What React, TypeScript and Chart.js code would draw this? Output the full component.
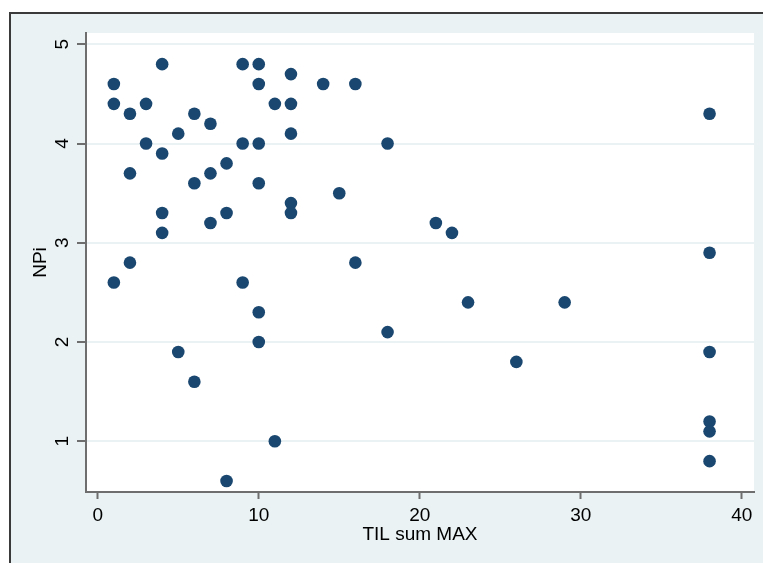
import React, { useEffect, useRef } from 'react';
import { Chart, registerables } from 'chart.js';

Chart.register(...registerables);

// TIL sum MAX (x) and NPi (y) for each observation
const tilSumMax = [
  1, 1, 1,
  2, 2, 2,
  3, 3,
  4, 4, 4, 4,
  5, 5,
  6, 6, 6,
  7, 7, 7,
  8, 8, 8,
  9, 9, 9,
  10, 10, 10, 10, 10, 10,
  11, 11,
  12, 12, 12, 12, 12,
  14,
  15,
  16, 16,
  18, 18,
  21,
  22,
  23,
  26,
  29,
  38, 38, 38, 38, 38, 38,
];
const npi = [
  4.6, 4.4, 2.6,
  4.3, 3.7, 2.8,
  4.4, 4.0,
  4.8, 3.9, 3.3, 3.1,
  4.1, 1.9,
  4.3, 3.6, 1.6,
  4.2, 3.7, 3.2,
  3.8, 3.3, 0.6,
  4.8, 4.0, 2.6,
  4.8, 4.6, 4.0, 3.6, 2.3, 2.0,
  4.4, 1.0,
  4.7, 4.4, 4.1, 3.4, 3.3,
  4.6,
  3.5,
  4.6, 2.8,
  4.0, 2.1,
  3.2,
  3.1,
  2.4,
  1.8,
  2.4,
  4.3, 2.9, 1.9, 1.2, 1.1, 0.8,
];
const xTicks = [0, 10, 20, 30, 40];
const yTicks = [1, 2, 3, 4, 5];
const xTitle = 'TIL sum MAX';
const yTitle = 'NPi';

const W = 763;
const H = 563;
const FONT = "'Liberation Sans', Arial, sans-serif";
const BG = '#EAF2F3';
const AXIS = '#6e6e6e';
const NAVY = '#1A476F';

const framePlugin = {
  id: 'stataFrame',
  beforeDraw(chart: any) {
    const { ctx, chartArea } = chart;
    ctx.save();
    ctx.fillStyle = '#ffffff';
    ctx.fillRect(0, 0, W, H);
    ctx.fillStyle = BG;
    ctx.fillRect(10, 13, W - 10, H - 13);
    ctx.strokeStyle = '#3a3a3a';
    ctx.lineWidth = 2;
    ctx.beginPath();
    ctx.moveTo(10, H);
    ctx.lineTo(10, 13);
    ctx.lineTo(W, 13);
    ctx.stroke();
    ctx.fillStyle = '#ffffff';
    ctx.fillRect(chartArea.left, chartArea.top, chartArea.right - chartArea.left, chartArea.bottom - chartArea.top);
    ctx.restore();
  },
};

export default function App() {
  const ref = useRef<HTMLCanvasElement | null>(null);

  useEffect(() => {
    if (!ref.current) return;
    const points = tilSumMax.map((x, i) => ({ x, y: npi[i] }));
    const chart = new Chart(ref.current, {
      type: 'scatter',
      data: {
        datasets: [
          {
            data: points,
            backgroundColor: NAVY,
            borderColor: NAVY,
            borderWidth: 0,
            pointRadius: 6.3,
            pointHoverRadius: 6.3,
          },
        ],
      },
      plugins: [framePlugin],
      options: {
        animation: false,
        responsive: false,
        devicePixelRatio: 1,
        events: [],
        layout: { padding: { left: 0, top: 33, right: 9, bottom: 0 } },
        plugins: {
          legend: { display: false },
          tooltip: { enabled: false },
        },
        scales: {
          x: {
            type: 'linear',
            min: -0.73,
            max: 40.76,
            afterBuildTicks: (scale: any) => {
              scale.ticks = xTicks.map((v) => ({ value: v }));
            },
            afterFit: (scale: any) => {
              scale.height = 71;
            },
            grid: {
              drawOnChartArea: false,
              drawTicks: true,
              tickLength: 7,
              tickColor: AXIS,
              tickWidth: 2,
            },
            border: { display: true, color: AXIS, width: 2 },
            ticks: {
              color: '#000',
              font: { family: FONT, size: 19 },
              padding: 5,
              maxRotation: 0,
              minRotation: 0,
              autoSkip: false,
            },
            title: {
              display: true,
              text: xTitle,
              color: '#000',
              font: { family: FONT, size: 19 },
              padding: { top: 0, bottom: 17 },
            },
          },
          y: {
            type: 'linear',
            min: 0.489,
            max: 5.114,
            afterBuildTicks: (scale: any) => {
              scale.ticks = yTicks.map((v) => ({ value: v }));
            },
            afterFit: (scale: any) => {
              scale.width = 86;
            },
            grid: {
              color: BG,
              lineWidth: 2,
              drawTicks: true,
              tickLength: 9,
              tickColor: AXIS,
              tickWidth: 2,
            },
            border: { display: true, color: AXIS, width: 2 },
            ticks: {
              color: '#000',
              font: { family: FONT, size: 19 },
              padding: 8.5,
              minRotation: 90,
              maxRotation: 90,
              crossAlign: 'center',
              autoSkip: false,
            },
            title: {
              display: true,
              text: yTitle,
              color: '#000',
              font: { family: FONT, size: 19 },
              padding: { top: 29, bottom: 0 },
            },
          },
        },
      } as any,
    });
    return () => chart.destroy();
  }, []);

  return (
    <div style={{ position: 'fixed', left: 0, top: 0, width: W, height: H }}>
      <canvas ref={ref} width={W} height={H} style={{ display: 'block', width: W, height: H }} />
    </div>
  );
}
